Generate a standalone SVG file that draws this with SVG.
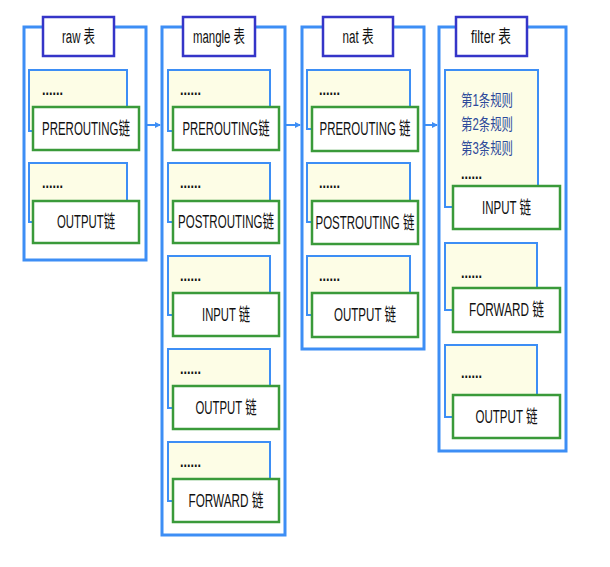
<svg xmlns="http://www.w3.org/2000/svg" width="610" height="567" viewBox="0 0 610 567">
<defs>
<marker id="ah" markerWidth="6" markerHeight="6" refX="5" refY="3" orient="auto" markerUnits="userSpaceOnUse">
<path d="M0,0 L6,3 L0,6 Z" fill="#3d8ef5"/>
</marker>
</defs>
<style>
.outer{fill:#fff;stroke:#3d8ef5;stroke-width:3}
.title{fill:#fff;stroke:#3535c8;stroke-width:2.5}
.panel{fill:#fdfde6;stroke:#3d8ef5;stroke-width:2}
.chain{fill:#fff;stroke:#3a9a3a;stroke-width:2.5}
text{font-family:"Liberation Sans","Noto Sans CJK SC",sans-serif;fill:#111}
.tt{font-size:18px;text-anchor:middle}
.ct{font-size:18px;text-anchor:middle}
.dots{font-size:16px;font-weight:bold}
.rule{font-size:16px;fill:#2d4a9a}
.conn line{stroke:#3d8ef5;stroke-width:2}
</style>
<rect width="610" height="567" fill="#fff"/>

<g id="raw">
<rect class="outer" x="24" y="27" width="122" height="233"/>
<rect class="title" x="43" y="17" width="71" height="39"/>
<text class="tt" x="78.5" y="43" textLength="33" lengthAdjust="spacingAndGlyphs">raw 表</text>
<rect class="panel" x="29" y="70" width="98" height="61"/>
<text class="dots" x="42" y="95" textLength="21" lengthAdjust="spacingAndGlyphs">......</text>
<rect class="chain" x="33" y="107" width="106" height="43"/>
<text class="ct" x="86" y="135" textLength="88" lengthAdjust="spacingAndGlyphs">PREROUTING链</text>
<rect class="panel" x="29" y="163" width="98" height="59"/>
<text class="dots" x="42" y="188" textLength="21" lengthAdjust="spacingAndGlyphs">......</text>
<rect class="chain" x="33" y="201" width="106" height="42"/>
<text class="ct" x="86" y="228" textLength="58" lengthAdjust="spacingAndGlyphs">OUTPUT链</text>
</g>

<g id="mangle">
<rect class="outer" x="162" y="27" width="123" height="508"/>
<rect class="title" x="183" y="17" width="72" height="39"/>
<text class="tt" x="219" y="43" textLength="52" lengthAdjust="spacingAndGlyphs">mangle 表</text>
<rect class="panel" x="168" y="70" width="102" height="61"/>
<text class="dots" x="180" y="95" textLength="21" lengthAdjust="spacingAndGlyphs">......</text>
<rect class="chain" x="173" y="107" width="106" height="43"/>
<text class="ct" x="226" y="135" textLength="87" lengthAdjust="spacingAndGlyphs">PREROUTING链</text>
<rect class="panel" x="168" y="163" width="102" height="59"/>
<text class="dots" x="180" y="188" textLength="21" lengthAdjust="spacingAndGlyphs">......</text>
<rect class="chain" x="173" y="201" width="106" height="42"/>
<text class="ct" x="226" y="228" textLength="96" lengthAdjust="spacingAndGlyphs">POSTROUTING链</text>
<rect class="panel" x="168" y="256" width="102" height="59"/>
<text class="dots" x="180" y="281" textLength="21" lengthAdjust="spacingAndGlyphs">......</text>
<rect class="chain" x="173" y="293" width="106" height="43"/>
<text class="ct" x="226" y="321" textLength="48" lengthAdjust="spacingAndGlyphs">INPUT 链</text>
<rect class="panel" x="168" y="349" width="102" height="59"/>
<text class="dots" x="180" y="374" textLength="21" lengthAdjust="spacingAndGlyphs">......</text>
<rect class="chain" x="173" y="386" width="106" height="43"/>
<text class="ct" x="226" y="414" textLength="61" lengthAdjust="spacingAndGlyphs">OUTPUT 链</text>
<rect class="panel" x="168" y="442" width="102" height="59"/>
<text class="dots" x="180" y="467" textLength="21" lengthAdjust="spacingAndGlyphs">......</text>
<rect class="chain" x="173" y="479" width="106" height="43"/>
<text class="ct" x="226" y="507" textLength="75" lengthAdjust="spacingAndGlyphs">FORWARD 链</text>
</g>

<g id="nat">
<rect class="outer" x="302" y="27" width="122" height="322"/>
<rect class="title" x="323" y="17" width="70" height="39"/>
<text class="tt" x="358" y="43" textLength="31" lengthAdjust="spacingAndGlyphs">nat 表</text>
<rect class="panel" x="307" y="70" width="103" height="59"/>
<text class="dots" x="319" y="95" textLength="21" lengthAdjust="spacingAndGlyphs">......</text>
<rect class="chain" x="312" y="107" width="106" height="44"/>
<text class="ct" x="365" y="135" textLength="91" lengthAdjust="spacingAndGlyphs">PREROUTING 链</text>
<rect class="panel" x="307" y="163" width="103" height="59"/>
<text class="dots" x="319" y="188" textLength="21" lengthAdjust="spacingAndGlyphs">......</text>
<rect class="chain" x="312" y="201" width="106" height="43"/>
<text class="ct" x="365" y="229" textLength="99" lengthAdjust="spacingAndGlyphs">POSTROUTING 链</text>
<rect class="panel" x="307" y="256" width="103" height="59"/>
<text class="dots" x="319" y="281" textLength="21" lengthAdjust="spacingAndGlyphs">......</text>
<rect class="chain" x="312" y="293" width="106" height="44"/>
<text class="ct" x="365" y="321" textLength="62" lengthAdjust="spacingAndGlyphs">OUTPUT 链</text>
</g>

<g id="filter">
<rect class="outer" x="439" y="27" width="127" height="424"/>
<rect class="title" x="456" y="17" width="71" height="39"/>
<text class="tt" x="491" y="43" textLength="40" lengthAdjust="spacingAndGlyphs">filter 表</text>
<rect class="panel" x="445" y="70" width="93" height="137"/>
<text class="rule" x="461" y="106" textLength="52" lengthAdjust="spacingAndGlyphs">第1条规则</text>
<text class="rule" x="461" y="130" textLength="52" lengthAdjust="spacingAndGlyphs">第2条规则</text>
<text class="rule" x="461" y="154" textLength="52" lengthAdjust="spacingAndGlyphs">第3条规则</text>
<text class="dots" x="461" y="179" textLength="21" lengthAdjust="spacingAndGlyphs">......</text>
<rect class="chain" x="453" y="186" width="107" height="43"/>
<text class="ct" x="506.5" y="214" textLength="49" lengthAdjust="spacingAndGlyphs">INPUT 链</text>
<rect class="panel" x="445" y="243" width="92" height="67"/>
<text class="dots" x="461" y="278" textLength="21" lengthAdjust="spacingAndGlyphs">......</text>
<rect class="chain" x="453" y="288" width="107" height="44"/>
<text class="ct" x="506.5" y="316" textLength="75" lengthAdjust="spacingAndGlyphs">FORWARD 链</text>
<rect class="panel" x="445" y="345" width="92" height="72"/>
<text class="dots" x="461" y="378" textLength="21" lengthAdjust="spacingAndGlyphs">......</text>
<rect class="chain" x="453" y="395" width="107" height="43"/>
<text class="ct" x="506.5" y="423" textLength="62" lengthAdjust="spacingAndGlyphs">OUTPUT 链</text>
</g>

<g id="connectors" class="conn">
<line x1="147" y1="125" x2="160" y2="125" marker-end="url(#ah)"/>
<line x1="286" y1="125" x2="300" y2="125" marker-end="url(#ah)"/>
<line x1="425" y1="125" x2="437" y2="125" marker-end="url(#ah)"/>
</g>
</svg>
